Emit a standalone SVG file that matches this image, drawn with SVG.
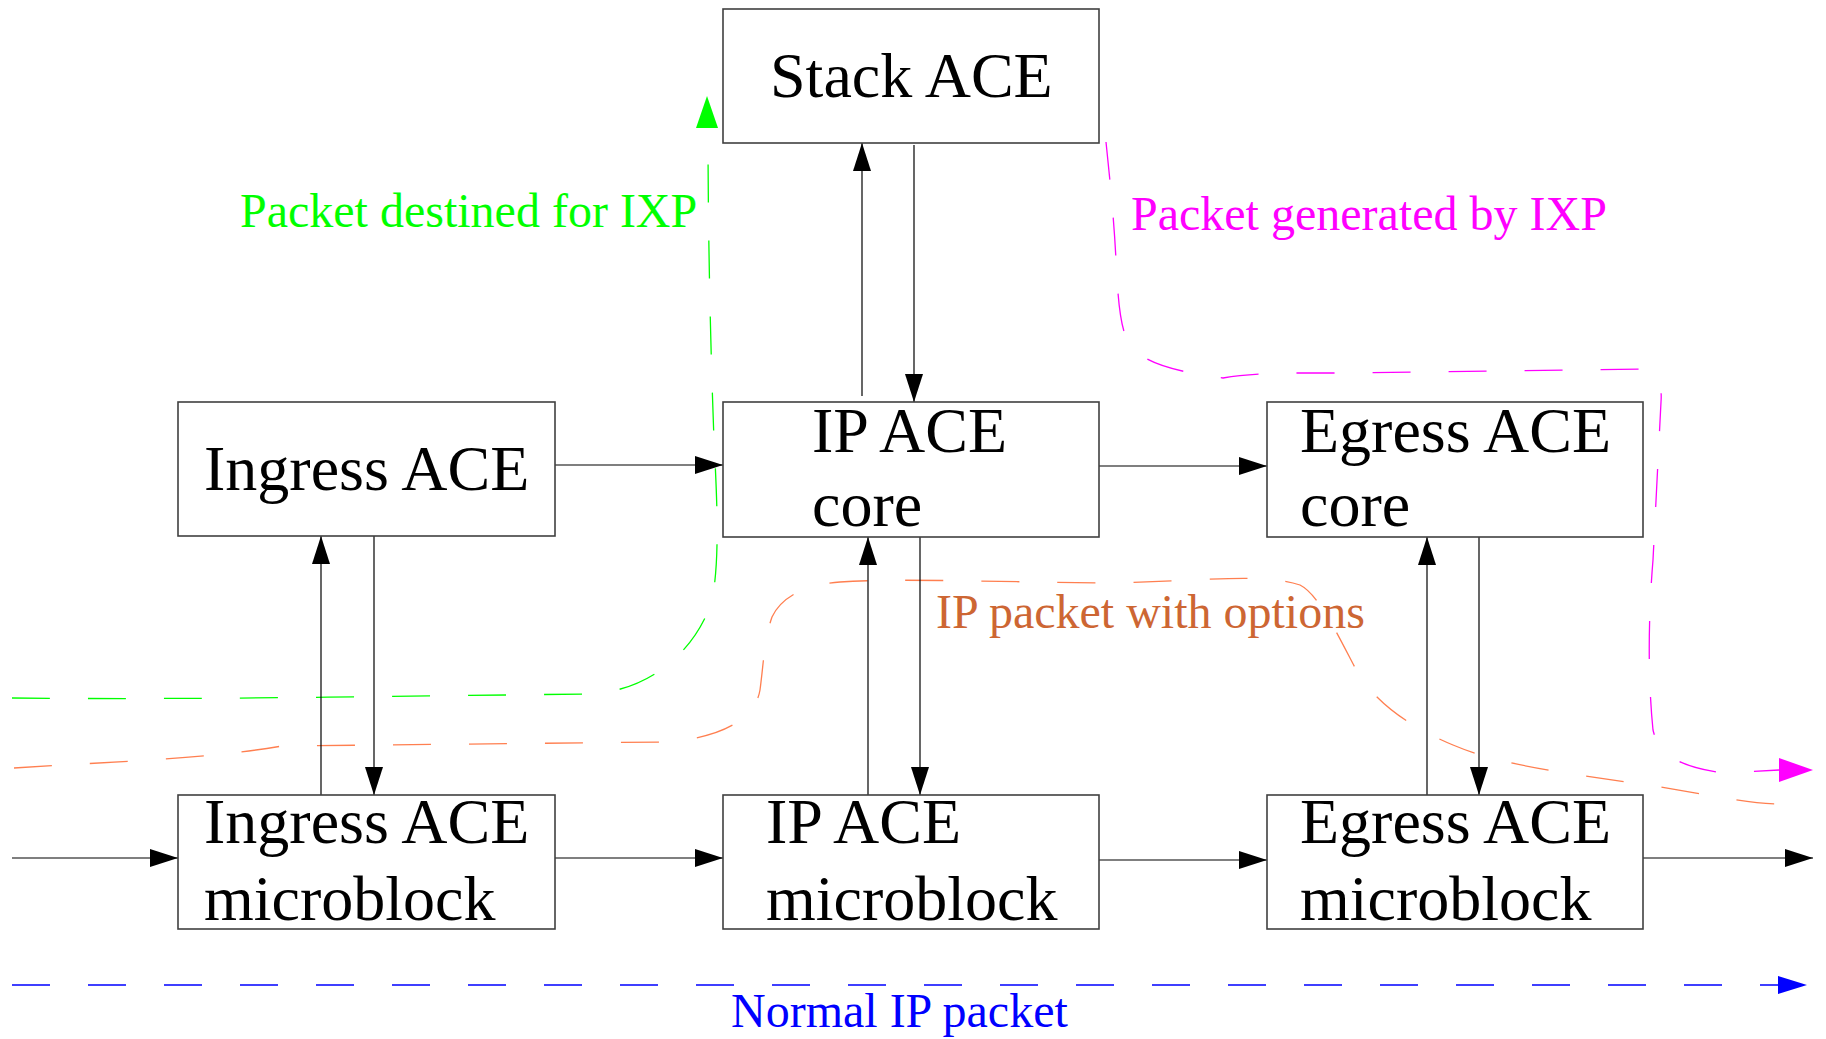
<svg xmlns="http://www.w3.org/2000/svg" width="1826" height="1039" viewBox="0 0 1826 1039">
<style>
.box{fill:#fff;stroke:#404040;stroke-width:1.6}
.t{font-family:"Liberation Serif","Times New Roman",serif;font-size:64px;fill:#000}
.lbl{font-family:"Liberation Serif","Times New Roman",serif;font-size:48px}
.c{stroke:#000;stroke-width:1.2;fill:none}
.d{fill:none;stroke-width:1.3;stroke-dasharray:38 38}
</style>
<defs>
<marker id="ah" markerWidth="28" markerHeight="18" refX="28" refY="9" orient="auto" markerUnits="userSpaceOnUse">
<path d="M0,0 L28,9 L0,18 Z" fill="#000"/>
</marker>
</defs>
<rect width="1826" height="1039" fill="#fff"/>

<g id="flows">
<path class="d" stroke="#00ff00" d="M12,698 C200,700 400,696 590,694 C660,690 700,640 712,600 C720,560 717,500 714,440 C711,360 708,250 708,128"/>
<polygon points="707,96 696,128 718,128" fill="#00ff00"/>
<path class="d" stroke="#ff7f50" d="M14,768 C100,762 200,760 282,746 L666,742 C720,738 755,720 760,690 C764,660 764,640 772,617 C780,600 800,585 840,582 C900,578 1000,582 1100,583 C1200,582 1260,572 1300,585 C1320,595 1340,640 1360,677 C1380,705 1410,727 1453,745 C1500,765 1560,772 1640,784 C1700,792 1750,806 1792,804"/>
<path class="d" stroke="#ff00ff" d="M1106,142 C1110,180 1114,220 1116,260 C1118,300 1120,330 1130,345 C1145,365 1180,372 1223,378 C1260,372 1300,373 1340,373 L1644,369 C1660,370 1662,390 1661,402 L1653,560 C1648,620 1648,680 1653,730 C1660,760 1690,768 1723,773 L1779,770"/>
<polygon points="1813,770 1779,758 1779,782" fill="#ff00ff"/>
<path class="d" stroke="#0000ff" d="M12,985 L1778,985"/>
<polygon points="1807,985 1778,976 1778,994" fill="#0000ff"/>
</g>

<g id="connectors">
<line class="c" x1="862" y1="396" x2="862" y2="143" marker-end="url(#ah)"/>
<line class="c" x1="914" y1="145" x2="914" y2="402" marker-end="url(#ah)"/>
<line class="c" x1="555" y1="465" x2="723" y2="465" marker-end="url(#ah)"/>
<line class="c" x1="1099" y1="466" x2="1267" y2="466" marker-end="url(#ah)"/>
<line class="c" x1="321" y1="795" x2="321" y2="536" marker-end="url(#ah)"/>
<line class="c" x1="374" y1="536" x2="374" y2="795" marker-end="url(#ah)"/>
<line class="c" x1="868" y1="795" x2="868" y2="537" marker-end="url(#ah)"/>
<line class="c" x1="920" y1="537" x2="920" y2="795" marker-end="url(#ah)"/>
<line class="c" x1="1427" y1="795" x2="1427" y2="537" marker-end="url(#ah)"/>
<line class="c" x1="1479" y1="537" x2="1479" y2="795" marker-end="url(#ah)"/>
<line class="c" x1="12" y1="858" x2="178" y2="858" marker-end="url(#ah)"/>
<line class="c" x1="555" y1="858" x2="723" y2="858" marker-end="url(#ah)"/>
<line class="c" x1="1099" y1="860" x2="1267" y2="860" marker-end="url(#ah)"/>
<line class="c" x1="1643" y1="858" x2="1813" y2="858" marker-end="url(#ah)"/>
</g>

<g id="stack-ace"><rect class="box" x="723" y="9" width="376" height="134"/><text class="t" x="770" y="97">Stack ACE</text></g>
<g id="ingress-ace"><rect class="box" x="178" y="402" width="377" height="134"/><text class="t" x="204" y="490">Ingress ACE</text></g>
<g id="ip-ace-core"><rect class="box" x="723" y="402" width="376" height="135"/><text class="t" x="812" y="452">IP ACE</text><text class="t" x="812" y="526">core</text></g>
<g id="egress-ace-core"><rect class="box" x="1267" y="402" width="376" height="135"/><text class="t" x="1300" y="452">Egress ACE</text><text class="t" x="1300" y="526">core</text></g>
<g id="ingress-mb"><rect class="box" x="178" y="795" width="377" height="134"/><text class="t" x="204" y="843">Ingress ACE</text><text class="t" x="204" y="920">microblock</text></g>
<g id="ip-mb"><rect class="box" x="723" y="795" width="376" height="134"/><text class="t" x="766" y="843">IP ACE</text><text class="t" x="766" y="920">microblock</text></g>
<g id="egress-mb"><rect class="box" x="1267" y="795" width="376" height="134"/><text class="t" x="1300" y="843">Egress ACE</text><text class="t" x="1300" y="920">microblock</text></g>

<g id="labels">
<text class="lbl" x="240" y="227" fill="#00ff00">Packet destined for IXP</text>
<text class="lbl" x="1131" y="230" fill="#ff00ff">Packet generated by IXP</text>
<text class="lbl" x="936" y="628" fill="#cd6633">IP packet with options</text>
<text class="lbl" x="731" y="1027" fill="#0000ff">Normal IP packet</text>
</g>
</svg>
